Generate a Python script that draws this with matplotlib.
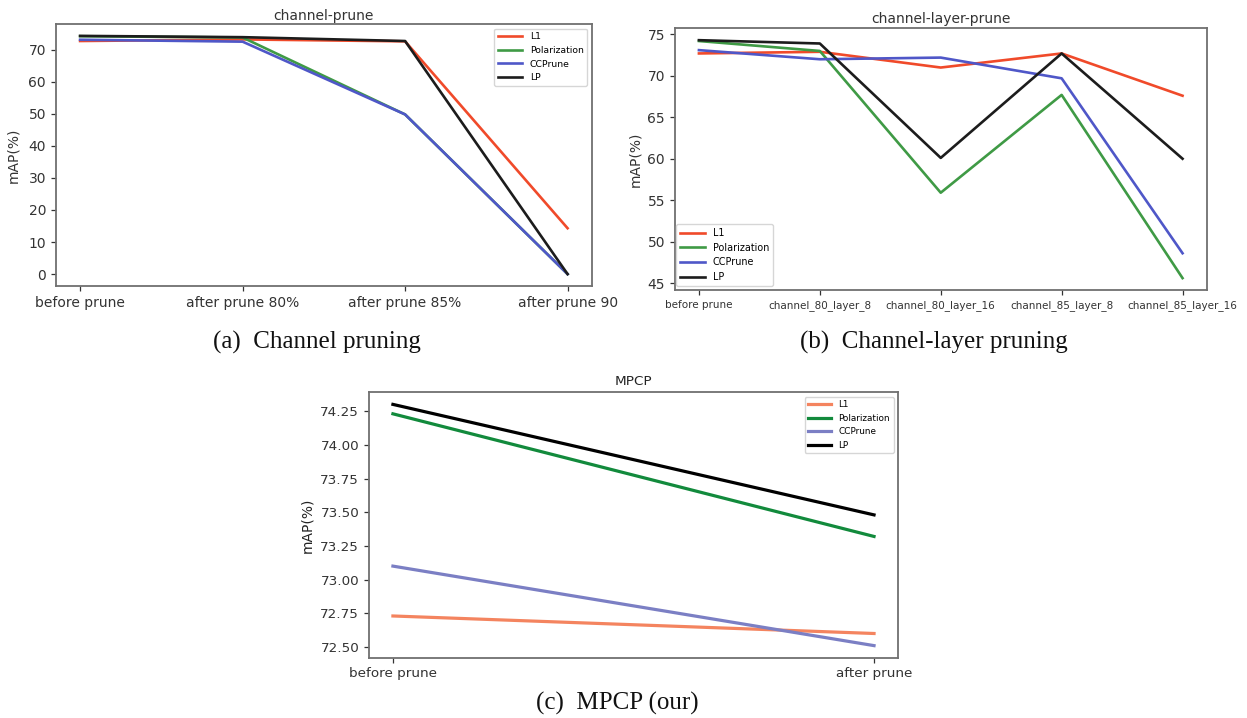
import matplotlib
matplotlib.use('Agg')
import matplotlib.pyplot as plt

# ---- data ----
methods = ['L1', 'Polarization', 'CCPrune', 'LP']

# (a) channel pruning
steps_a = ['before prune', 'after prune 80%', 'after prune 85%', 'after prune 90']
l1_a = [72.7, 73.2, 72.6, 14.3]
pol_a = [74.2, 73.8, 49.8, 0.0]
ccp_a = [73.1, 72.5, 49.8, 0.0]
lp_a = [74.3, 73.9, 72.7, 0.0]

# (b) channel-layer pruning
steps_b = ['before prune', 'channel_80_layer_8', 'channel_80_layer_16',
           'channel_85_layer_8', 'channel_85_layer_16']
l1_b = [72.7, 72.9, 71.0, 72.7, 67.6]
pol_b = [74.2, 73.0, 55.9, 67.7, 45.6]
ccp_b = [73.1, 72.0, 72.2, 69.7, 48.6]
lp_b = [74.3, 73.9, 60.1, 72.7, 60.0]

# (c) MPCP
steps_c = ['before prune', 'after prune']
l1_c = [72.73, 72.60]
pol_c = [74.23, 73.32]
ccp_c = [73.10, 72.51]
lp_c = [74.30, 73.48]

colors_ab = ['#f04a2a', '#3f9a45', '#4f57c8', '#1c1c1c']
colors_c = ['#f4845f', '#128a3c', '#7b7fc4', '#000000']

fig = plt.figure(figsize=(12.47, 7.18), dpi=100)


def style_axes(ax):
    for sp in ax.spines.values():
        sp.set_color('#707070')
        sp.set_linewidth(1.3)
    ax.tick_params(colors='#333333', length=3.5, width=0.9)


# (a)
ax_a = fig.add_axes([0.0447, 0.6017, 0.430, 0.3649])
for vals, name, c in zip([l1_a, pol_a, ccp_a, lp_a], methods, colors_ab):
    ax_a.plot(steps_a, vals, color=c, lw=1.9, label=name)
ax_a.set_title('channel-prune', fontsize=10, color='#333333', pad=3)
ax_a.set_ylabel('mAP(%)', fontsize=10, color='#333333', labelpad=6)
ax_a.set_yticks([0, 10, 20, 30, 40, 50, 60, 70])
ax_a.tick_params(axis='both', labelsize=10)
ax_a.legend(loc='upper right', fontsize=6.7, handlelength=2.6)
style_axes(ax_a)

# (b)
ax_b = fig.add_axes([0.5411, 0.5961, 0.4266, 0.3645])
for vals, name, c in zip([l1_b, pol_b, ccp_b, lp_b], methods, colors_ab):
    ax_b.plot(steps_b, vals, color=c, lw=1.9, label=name)
ax_b.set_title('channel-layer-prune', fontsize=10, color='#333333', pad=4)
ax_b.set_ylabel('mAP(%)', fontsize=10, color='#333333')
ax_b.tick_params(axis='x', labelsize=7.5)
ax_b.tick_params(axis='y', labelsize=10)
ax_b.legend(loc='lower left', bbox_to_anchor=(0.003, 0.015), borderaxespad=0,
            fontsize=6.9, handlelength=2.6)
style_axes(ax_b)

# (c)
ax_c = fig.add_axes([0.2958, 0.0840, 0.4244, 0.3696])
for vals, name, c in zip([l1_c, pol_c, ccp_c, lp_c], methods, colors_c):
    ax_c.plot(steps_c, vals, color=c, lw=2.3, label=name)
ax_c.set_title('MPCP', fontsize=9.7, color='#222222', pad=5)
ax_c.set_ylabel('mAP(%)', fontsize=10, color='#222222')
ax_c.set_yticks([72.50, 72.75, 73.00, 73.25, 73.50, 73.75, 74.00, 74.25])
ax_c.yaxis.set_major_formatter(matplotlib.ticker.FormatStrFormatter('%.2f'))
ax_c.tick_params(axis='both', labelsize=9.7)
ax_c.legend(loc='upper right', fontsize=6.4, handlelength=2.6)
style_axes(ax_c)

# captions
cap = dict(fontsize=18, family='Liberation Serif', ha='center', va='center', color='#111111')
fig.text(317 / 1247, 1 - 342 / 718, '(a)  Channel pruning', **cap)
fig.text(934 / 1247, 1 - 342 / 718, '(b)  Channel-layer pruning', **cap)
fig.text(617 / 1247, 1 - 703 / 718, '(c)  MPCP (our)', **cap)

fig.savefig('out.png', dpi=100)
